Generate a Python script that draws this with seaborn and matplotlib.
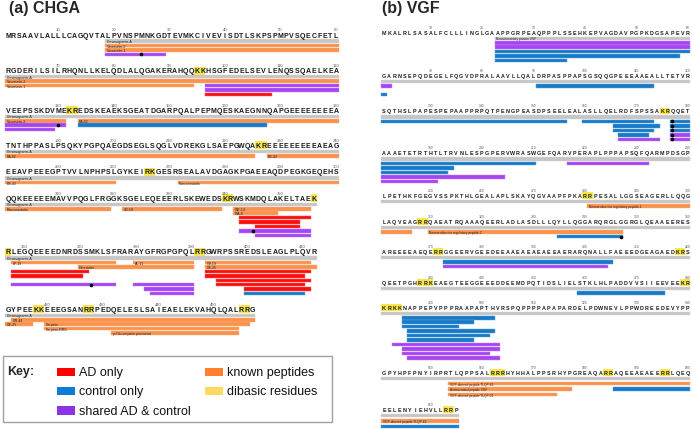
import matplotlib
matplotlib.use("Agg")
import matplotlib.pyplot as plt
from matplotlib.patches import Rectangle
import seaborn as sns

# ------------------------------------------------------------------ data
CHGA_ROWS = [
    "MRSAAVLALLLCAGQVTALPVNSPMNKGDTEVMKCIVEVISDTLSKPSPMPVSQECFETL",
    "RGDERILSILRHQNLLKELQDLALQGAKERAHQQKKHSGFEDELSEVLENQSSQAELKEA",
    "VEEPSSKDVMEKREDSKEAEKSGEATDGARPQALPEPMQESKAEGNNQAPGEEEEEEEEA",
    "TNTHPPASLPSQKYPGPQAEGDSEGLSQGLVDREKGLSAEPGWQAKREEEEEEEEEAEAG",
    "EEAVPEEEGPTVVLNPHPSLGYKEIRKGESRSEALAVDGAGKPGAEEAQDPEGKGEQEHS",
    "QQKEEEEEMAVVPQGLFRGGKSGELEQEEERLSKEWEDSKRWSKMDQLAKELTAEK",
    "RLEGQEEEEDNRDSSMKLSFRARAYGFRGPGPQLRRGWRPSSREDSLEAGLPLQVR",
    "GYPEEKKEEEGSANRRPEDQELESLSAIEAELEKVAHQLQALRRG",
]
CHGA_ROW_START = [1, 61, 121, 181, 241, 301, 357, 413]
CHGA_DIBASIC = [95, 96, 132, 133, 226, 227, 266, 267, 340, 341, 356, 357,
                391, 392, 418, 419, 427, 428, 455, 456]
# (row, lane, first residue, last residue, label)
CHGA_PROTEIN = [(0, 0, 19, 60, "Chromogranin-A"), (1, 0, 61, 120, "Chromogranin-A"),
                (2, 0, 121, 180, "Chromogranin-A"), (3, 0, 181, 240, "Chromogranin-A"),
                (4, 0, 241, 300, "Chromogranin-A"), (5, 0, 301, 356, "Chromogranin-A"),
                (6, 0, 357, 412, "Chromogranin-A"), (7, 0, 413, 457, "Chromogranin-A")]
CHGA_KNOWN = [(0, 1, 19, 60, "Vasostatin-2"), (0, 2, 19, 60, "Vasostatin-1"),
              (1, 1, 61, 120, "Vasostatin-2"), (1, 2, 61, 94, "Vasostatin-1"),
              (2, 1, 121, 131, "Vasostatin-2"), (2, 1, 134, 180, "EA-92"),
              (3, 1, 181, 225, "EA-92"), (3, 1, 228, 240, "ES-43"),
              (4, 1, 241, 260, "ES-43"), (4, 1, 272, 300, "Pancreastatin"),
              (5, 1, 301, 319, "Pancreastatin"), (5, 1, 322, 339, "SS-18"),
              (5, 1, 342, 355, "WE-14"), (5, 2, 342, 349, "WA-8"),
              (6, 1, 358, 376, "LP-19"), (6, 1, 380, 390, "AL-11"),
              (6, 1, 393, 411, "GV-19"), (6, 2, 370, 390, "Catestatin"),
              (6, 2, 393, 412, "GE-25"),
              (7, 1, 414, 457, "GR-44"), (7, 2, 413, 417, "GE-25"),
              (7, 2, 420, 456, "Serpinin"), (7, 3, 420, 454, "Serpinin-RRG"),
              (7, 4, 432, 454, "p-Glu serpinin precursor")]
CHGA_AD = [(1, 4, 97, 108), (5, 3, 343, 355), (5, 4, 343, 353), (5, 5, 346, 353),
           (6, 3, 358, 371), (6, 4, 358, 370), (6, 3, 393, 411), (6, 4, 393, 410),
           (6, 5, 395, 411), (6, 6, 395, 410), (6, 7, 400, 411)]
CHGA_CONTROL = [(2, 2, 134, 167), (6, 8, 400, 410)]
CHGA_SHARED = [(0, 3, 19, 29), (1, 2, 97, 120), (1, 3, 97, 120), (2, 2, 121, 131),
               (2, 3, 121, 129), (5, 6, 343, 355), (5, 7, 346, 355),
               (6, 6, 358, 376), (6, 6, 380, 390), (6, 7, 382, 390), (6, 8, 383, 390)]
CHGA_DOTS = [(0, 3, 25), (2, 2, 130), (5, 6, 345), (6, 6, 372)]

VGF_ROWS = [
    "MKALRLSASALFCLLLINGLGAAPPGRPEAQPPPLSSEHKEPVAGDAVPGPKDGSAPEVR",
    "GARNSEPQDEGELFQGVDPRALAAVLLQALDRPASPPAPSGSQQGPEEEAAEALLTETVR",
    "SQTHSLPAPESPEPAAPPRPQTPENGPEASDPSEELEALASLLQELRDFSPSSAKRQQET",
    "AAAETETRTHTLTRVNLESPGPERVWRASWGEFQARVPERAPLPPPAPSQFQARMPDSGP",
    "LPETHKFGEGVSSPKTHLGEALAPLSKAYQGVAAPFPKARRPESALLGGSEAGERLLQQG",
    "LAQVEAGRRQAEATRQAAAQEERLADLASDLLLQYLLQGGARQRGLGGRGLQEAAEERES",
    "AREEEEAEQERRGGEERVGEEDEEAAEAEAEAEEAERARQNALLFAEEEDGEAGAEDKRS",
    "QEETPGHRRKEAEGTEEGGEEEDDEEMDPQTIDSLIELSTKLHLPADDVVSIIEEVEEKR",
    "KRKKNAPPEPVPPPRAAPAPTHVRSPQPPPPAPAPARDELPDWNEVLPPWDREEDEVYPP",
    "GPYHPFPNYIRPRTLQPPSALRRRHYHHALPPSRHYPGREAQARRAQEEAEAEERRLQEQ",
    "EELENYIEHVLLRRP",
]
VGF_ROW_START = [1, 61, 121, 181, 241, 301, 361, 421, 481, 541, 601]
VGF_DIBASIC = [175, 176, 280, 281, 308, 309, 371, 372, 418, 419, 428, 429, 430,
               479, 480, 481, 482, 483, 484, 562, 563, 564, 584, 585, 595, 596,
               613, 614]
VGF_PROTEIN = [(0, 0, 23, 60, "Neurosecretory protein VGF"), (1, 0, 61, 120, ""),
               (2, 0, 121, 180, ""), (3, 0, 181, 240, ""), (4, 0, 241, 300, ""),
               (5, 0, 301, 360, ""), (6, 0, 361, 420, ""), (7, 0, 421, 480, ""),
               (8, 0, 481, 540, ""), (9, 0, 541, 600, ""), (10, 0, 601, 615, "")]
VGF_KNOWN = [(4, 1, 281, 300, "Neuroendocrine regulatory peptide-1"),
             (5, 1, 301, 306, ""),
             (5, 1, 310, 347, "Neuroendocrine regulatory peptide-2"),
             (9, 1, 554, 600, "VGF-derived peptide TLQP-62"),
             (9, 2, 554, 577, "Antimicrobial peptide VGF"),
             (9, 3, 554, 574, "VGF-derived peptide TLQP-21"),
             (10, 1, 601, 615, "VGF-derived peptide TLQP-62")]
VGF_AD = []
VGF_CONTROL = [(0, 3, 23, 60), (0, 4, 23, 58), (0, 5, 23, 36),
               (1, 1, 91, 113), (1, 3, 61, 61),
               (2, 1, 121, 156), (2, 1, 160, 173), (2, 1, 177, 180),
               (2, 2, 166, 174), (2, 2, 177, 180), (2, 3, 166, 173), (2, 3, 177, 180),
               (2, 4, 167, 172),
               (3, 1, 181, 210), (3, 2, 181, 194), (3, 3, 181, 193),
               (5, 2, 335, 347), (6, 1, 373, 405), (7, 1, 459, 475),
               (8, 1, 485, 502), (8, 2, 485, 498), (8, 3, 485, 495),
               (8, 4, 486, 502), (8, 5, 486, 501), (8, 6, 486, 498),
               (9, 2, 586, 600), (10, 2, 601, 615)]
VGF_SHARED = [(0, 1, 23, 60), (0, 2, 23, 60), (1, 1, 61, 62),
              (2, 4, 177, 180), (2, 5, 167, 174), (2, 5, 177, 180),
              (3, 1, 217, 232), (3, 4, 181, 204), (3, 5, 181, 191),
              (6, 2, 373, 404),
              (8, 7, 483, 503), (8, 8, 485, 503), (8, 9, 485, 501), (8, 10, 486, 503)]
VGF_DOTS = [(2, 1, 177), (2, 2, 177), (2, 3, 177), (2, 4, 177), (2, 5, 177), (5, 2, 347)]

# ------------------------------------------------------------------ layout / style
FIG_W, FIG_H = 692, 431
CHGA_GRAY_Y = [42.0, 77.7, 117.3, 152.3, 179.0, 205.3, 259.0, 316.3]
CHGA_LANE_GAP = [4.45] * 8
VGF_GRAY_Y = [39.3, 82.3, 118.0, 160.0, 202.7, 228.7, 258.7, 289.3, 314.3, 379.3, 416.7]
VGF_LANE_GAP = [4.45] * 9 + [5.4, 5.4]

GRAY = "#C6C6C6"
ORANGE = "#F9924C"
RED = "#F90F0F"
BLUE = "#1879C6"
PURPLE = "#A444F2"
YELLOW = "#F7E54A"

sns.set_theme(style="white")
plt.rcParams["font.family"] = ["Liberation Sans", "DejaVu Sans"]

fig = plt.figure(figsize=(FIG_W / 100, FIG_H / 100), dpi=100)


def make_axes(px0, px1, x_first, step):
    ax = fig.add_axes([px0 / FIG_W, 0, (px1 - px0) / FIG_W, 1])
    ax.set_xlim((px0 - x_first) / step, (px1 - x_first) / step)
    ax.set_ylim(FIG_H, 0)
    ax.axis("off")
    ax.patch.set_alpha(0)
    return ax


def draw_panel(ax, rows, starts, gray_y, gaps, dibasic, protein, known, ad,
               control, shared, dots, seq_fs, seq_w, num_fs, hl_h, lab_fs):
    for r, (seq, rs) in enumerate(zip(rows, starts)):
        sy = gray_y[r] - 6.0
        # dibasic highlight
        hl = [p - rs for p in dibasic if rs <= p < rs + len(seq)]
        if hl:
            ax.bar(hl, hl_h, bottom=sy - hl_h / 2, width=1.0, color=YELLOW,
                   linewidth=0, zorder=1)
        for i, ch in enumerate(seq):
            ax.text(i, sy, ch, ha="center", va="center", fontsize=seq_fs,
                    fontweight=seq_w, color="#1a1a1a", zorder=3)
        for n in range(((rs + 9) // 10) * 10, rs + len(seq), 10):
            ax.text(n - rs, sy - 5.6, str(n), ha="center", va="center",
                    fontsize=num_fs, color="#555555", zorder=3)

    def bars(items, color, edge, labelled):
        for it in items:
            r, lane, s, e = it[:4]
            rs = starts[r]
            y = gray_y[r] + lane * gaps[r]
            ax.barh(y, e - s + 1, left=s - rs - 0.5, height=3.5, color=color,
                    edgecolor=edge, linewidth=0.35, zorder=2)
            if labelled and it[4]:
                ax.text(s - rs - 0.2, y + 0.1, it[4], ha="left", va="center",
                        fontsize=lab_fs, color="#222222", zorder=4)

    bars(protein, GRAY, "#d6d6d6", True)
    bars(known, ORANGE, "#fbb07c", True)
    bars(ad, RED, "#ff5a5a", False)
    bars(control, BLUE, "#5aa5de", False)
    bars(shared, PURPLE, "#c585f7", False)
    for r, lane, p in dots:
        ax.plot([p - starts[r]], [gray_y[r] + lane * gaps[r]], "o", ms=1.6,
                color="black", zorder=5)


ax1 = make_axes(0, 346, 8.0, 5.56)
draw_panel(ax1, CHGA_ROWS, CHGA_ROW_START, CHGA_GRAY_Y, CHGA_LANE_GAP,
           CHGA_DIBASIC, CHGA_PROTEIN, CHGA_KNOWN, CHGA_AD, CHGA_CONTROL,
           CHGA_SHARED, CHGA_DOTS, seq_fs=5.0, seq_w="bold", num_fs=3.0,
           hl_h=8.2, lab_fs=2.5)

ax2 = make_axes(346, 692, 384.0, 5.15)
draw_panel(ax2, VGF_ROWS, VGF_ROW_START, VGF_GRAY_Y, VGF_LANE_GAP,
           VGF_DIBASIC, VGF_PROTEIN, VGF_KNOWN, VGF_AD, VGF_CONTROL,
           VGF_SHARED, VGF_DOTS, seq_fs=3.9, seq_w="bold", num_fs=2.4,
           hl_h=6.6, lab_fs=2.3)

# ------------------------------------------------------------------ titles + key
ov = fig.add_axes([0, 0, 1, 1])
ov.set_xlim(0, FIG_W)
ov.set_ylim(FIG_H, 0)
ov.axis("off")
ov.patch.set_alpha(0)
ov.text(9, 9, "(a) CHGA", fontsize=11.5, fontweight="bold", ha="left", va="center")
ov.text(382, 9, "(b) VGF", fontsize=11.5, fontweight="bold", ha="left", va="center")

ov.add_patch(Rectangle((2.5, 357), 329.5, 66, facecolor="white",
                       edgecolor="#a0a0a0", linewidth=1.0))
ov.text(7.5, 372.5, "Key:", fontsize=9, fontweight="bold", ha="left", va="center")
key_items = [(57, 373, "#FF0000", "AD only"), (57, 392, "#0A7DD6", "control only"),
             (57, 411.5, "#8C33E8", "shared AD & control"),
             (205, 373, "#FF7F2E", "known peptides"),
             (205, 392, "#FFD960", "dibasic residues")]
for x, y, c, t in key_items:
    ov.add_patch(Rectangle((x, y - 4.3), 17.5, 8.6, facecolor=c, edgecolor="none"))
    ov.text(x + 22, y + 0.3, t, fontsize=9, ha="left", va="center", color="#111111")

fig.savefig("out.png", dpi=100)
